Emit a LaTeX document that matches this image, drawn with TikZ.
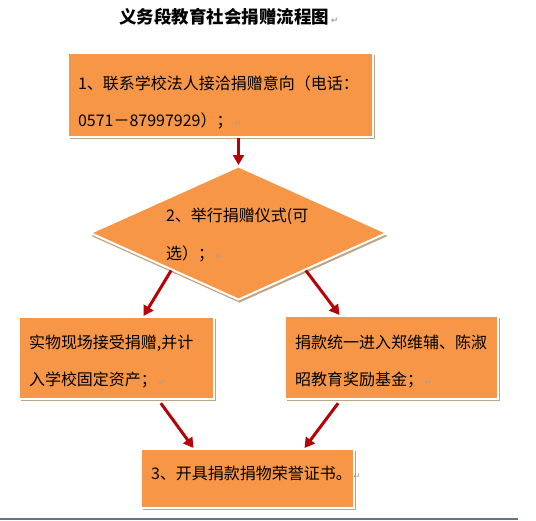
\documentclass[tikz,border=0pt]{standalone}
\usepackage{fontspec}
\setmainfont{Noto Sans CJK SC}
\newfontfamily\symfont{DejaVu Sans}
\usepackage{tikz}
\usetikzlibrary{positioning, calc, shapes.geometric, shadows, arrows.meta}
\definecolor{boxorange}{RGB}{247,150,70}
\definecolor{shadowtan}{RGB}{192,164,134}
\definecolor{arrowred}{RGB}{180,4,8}
\definecolor{markgray}{RGB}{160,160,160}
\definecolor{rulegray}{RGB}{92,116,140}
\newcommand{\pmark}{{\symfont\fontsize{9}{9}\selectfont\color{markgray}\,↵}}
\tikzset{flowbox/.style={rectangle, draw=white, line width=2pt, fill=boxorange, inner xsep=10pt, inner ysep=0pt, align=left, font=\fontsize{16}{37}\selectfont, drop shadow={shadow xshift=2pt, shadow yshift=-2pt, fill=shadowtan, opacity=1}}}
\tikzset{decision/.style={diamond, aspect=2.2, draw=white, line width=2pt, fill=boxorange, minimum width=297pt, minimum height=134pt, inner sep=0pt, text width=145pt, align=left, font=\fontsize{16}{38}\selectfont, drop shadow={shadow xshift=1pt, shadow yshift=-3pt, fill=shadowtan, opacity=1}}}
\tikzset{flow/.style={->, draw=arrowred, line width=3pt}}

\begin{document}
\begin{tikzpicture}[x=1pt, y=-1pt, >={Triangle[width=11pt,length=10pt]}]
    \useasboundingbox (0,0) rectangle (536,520);
    \node[font=\bfseries\fontsize{17.5}{20}\selectfont] (title) at (229,17) {义务段教育社会捐赠流程图\pmark};

    \node[flowbox, anchor=north west, text width=285pt, text height=36pt, text depth=48pt] (box-1) at (67,52)
      {1、联系学校法人接洽捐赠意向（电话：\\0571－87997929）；\pmark};
    \node[decision, text height=16pt, text depth=40pt] (dia-2) at (238.5,233)
      {2、举行捐赠仪式(可\\选）；\pmark};
    \node[flowbox, anchor=north west, text width=175pt, text height=31pt, text depth=51pt] (box-3l) at (18,316)
      {实物现场接受捐赠,并计\\入学校固定资产；\pmark};
    \node[flowbox, anchor=north west, text width=193pt, text height=32pt, text depth=51pt] (box-3r) at (284,315)
      {捐款统一进入郑维辅、陈淑\\昭教育奖励基金；\pmark};
    \node[flowbox, anchor=north west, text width=193pt, text height=30pt, text depth=29pt] (box-4) at (140,448)
      {3、开具捐款捐物荣誉证书。\pmark};

    \draw[flow] (box-1.south -| dia-2.north) -- (dia-2.north);
    \draw[flow] ($(dia-2.west)!0.55!(dia-2.south)$) -- ($(box-3l.north)+(27,0)$);
    \draw[flow] ($(dia-2.east)!0.55!(dia-2.south)$) -- ($(box-3r.north)+(-52,0)$);

    \draw[flow, shorten <=4pt] ($(box-3l.south)+(42,0)$) -- ($(box-4.north)+(-54,0)$);
    \draw[flow, shorten <=4pt] ($(box-3r.south)+(-51,0)$) -- ($(box-4.north)+(57,0)$);

    \draw[rulegray, line width=2pt] (0,519) -- (518,519);
\end{tikzpicture}
\end{document}
